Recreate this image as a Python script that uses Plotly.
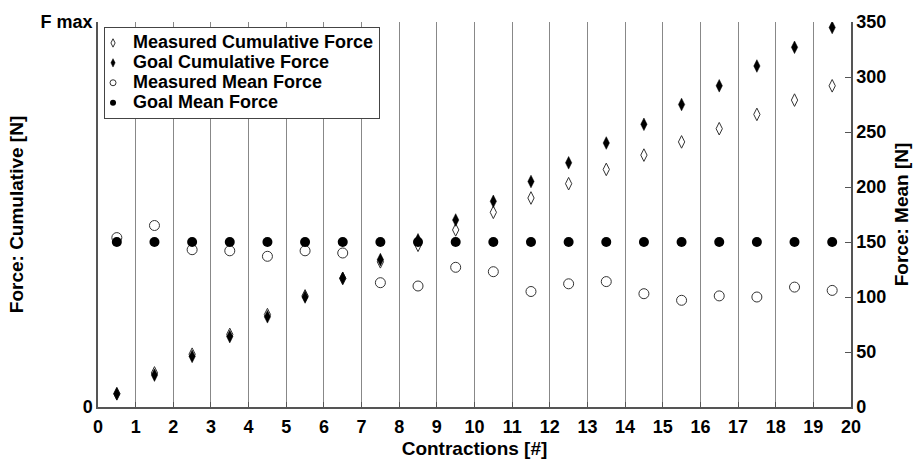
import plotly.graph_objects as go

contractions = [i + 0.5 for i in range(20)]
measured_cumulative = [12, 31, 48, 66, 84, 101, 117, 132, 147, 161, 177, 190, 203, 216, 229, 241, 253, 266, 279, 292]
goal_cumulative = [12, 29, 46, 64, 82, 100, 117, 134, 152, 170, 187, 205, 222, 240, 257, 275, 292, 310, 327, 345]
measured_mean = [154, 165, 143, 142, 137, 142, 140, 113, 110, 127, 123, 105, 112, 114, 103, 97, 101, 100, 109, 106]
goal_mean = [150] * 20

x_ticks = list(range(0, 21))
left_tickvals = [0, 350]
left_ticktext = ["0", "F max"]
right_ticks = [0, 50, 100, 150, 200, 250, 300, 350]

series_names = ["Measured Cumulative Force", "Goal Cumulative Force",
                "Measured Mean Force", "Goal Mean Force"]

FONT = "Liberation Sans, Arial, sans-serif"
AX = "#555555"

styles = [
    dict(symbol="diamond-tall-open", color="#333333", line=dict(width=1, color="#333333")),
    dict(symbol="diamond-tall", color="black", line=dict(width=0.5, color="black")),
    dict(symbol="circle-open", color="#333333", line=dict(width=1, color="#333333")),
    dict(symbol="circle", color="black", line=dict(width=0, color="black")),
]
sizes = [9, 9, 10, 10]
data = [measured_cumulative, goal_cumulative, measured_mean, goal_mean]

fig = go.Figure()
for ys, st, sz, nm in zip(data, styles, sizes, series_names):
    fig.add_trace(go.Scatter(x=contractions, y=ys, mode="markers", showlegend=False,
                             name=nm, marker=dict(size=sz, **st)))
# small legend markers (as in the original legend)
for st, nm in zip(styles, series_names):
    fig.add_trace(go.Scatter(x=[None], y=[None], mode="markers", showlegend=True,
                             name=f'<span style="font-size:18px"><b>{nm}</b></span>',
                             marker=dict(size=6, **st)))
# attach an invisible trace to the right axis so it renders
fig.add_trace(go.Scatter(x=[None], y=[None], yaxis="y2", showlegend=False, hoverinfo="skip"))

fig.update_layout(
    width=919, height=461,
    margin=dict(l=98, r=68, t=22, b=54, autoexpand=False),
    paper_bgcolor="white", plot_bgcolor="white",
    font=dict(family=FONT, size=18, color="black"),
    showlegend=True,
    legend=dict(x=0.008, y=0.987, xanchor="left", yanchor="top",
                bgcolor="white", bordercolor="#444444", borderwidth=1,
                font=dict(family=FONT, size=13, color="black"),
                tracegroupgap=0, indentation=-12, itemwidth=30),
    xaxis=dict(range=[0, 20], tickvals=x_ticks, ticktext=[f"<b>{t}</b>" for t in x_ticks],
               automargin=False, ticklabelstandoff=3,
               showgrid=True, gridcolor="#888888", gridwidth=1,
               showline=True, linecolor=AX, linewidth=1.5,
               ticks="inside", ticklen=5, tickcolor=AX, zeroline=False,
               title=dict(text="<b>Contractions [#]</b>", font=dict(size=19), standoff=5),
               tickfont=dict(size=18)),
    yaxis=dict(range=[0, 350], tickvals=left_tickvals,
               ticktext=[f"<b>{t}</b>" for t in left_ticktext],
               automargin=False,
               showgrid=False, zeroline=False,
               showline=True, linecolor=AX, linewidth=1.5,
               ticks="inside", ticklen=5, tickcolor=AX,
               title=dict(text="<b>Force: Cumulative [N]</b>", font=dict(size=19), standoff=12),
               tickfont=dict(size=18)),
    yaxis2=dict(range=[0, 350], tickvals=right_ticks,
                ticktext=[f"<b>{t}</b>" for t in right_ticks],
                overlaying="y", side="right", anchor="x",
                automargin=False,
                showgrid=False, zeroline=False,
                showline=True, linecolor=AX, linewidth=1.5,
                ticks="inside", ticklen=6, tickcolor=AX,
                title=dict(text="<b>Force: Mean [N]</b>", font=dict(size=19), standoff=9),
                tickfont=dict(size=18)),
)

fig.write_html("out.html", config={"displayModeBar": False},
               post_script="document.body.style.margin='0';document.body.style.padding='0';")
